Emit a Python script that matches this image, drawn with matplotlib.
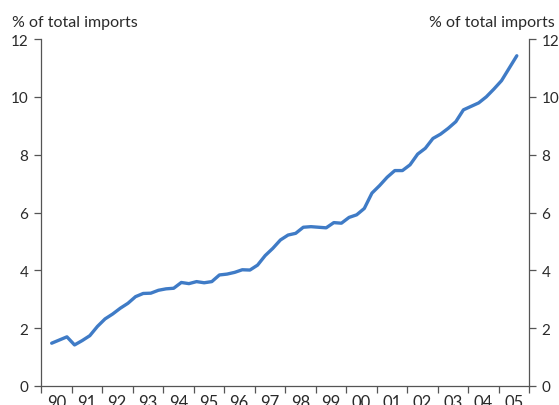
import numpy as np
import matplotlib
matplotlib.use('Agg')
import matplotlib.pyplot as plt
from matplotlib.ticker import FixedLocator, NullFormatter

plt.rcParams['font.family'] = ['Lato', 'DejaVu Sans']

# quarterly share of total imports, 1990 Q2 to 2005 Q3
years = [1990]*3 + [y for y in range(1991, 2005) for _ in range(4)] + [2005]*3
quarters = [2, 3, 4] + [1, 2, 3, 4]*14 + [1, 2, 3]
share = [1.48, 1.59, 1.70,
         1.42, 1.57, 1.74, 2.06,
         2.32, 2.49, 2.69, 2.86,
         3.09, 3.20, 3.21, 3.31,
         3.36, 3.38, 3.58, 3.54,
         3.61, 3.57, 3.61, 3.84,
         3.87, 3.93, 4.02, 4.01,
         4.18, 4.51, 4.76, 5.05,
         5.22, 5.28, 5.49, 5.51,
         5.49, 5.47, 5.65, 5.63,
         5.83, 5.92, 6.14, 6.67,
         6.93, 7.22, 7.45, 7.45,
         7.65, 8.02, 8.22, 8.56,
         8.71, 8.91, 9.14, 9.55,
         9.67, 9.79, 10.00, 10.27,
         10.56, 10.99, 11.42]
year_labels = ['90', '91', '92', '93', '94', '95', '96', '97',
               '98', '99', '00', '01', '02', '03', '04', '05']
y_ticks = [0, 2, 4, 6, 8, 10, 12]

x = np.array(years) + (np.array(quarters) - 0.6) / 4

text_col = '#2a2a2a'
spine_col = '#555555'

fig = plt.figure(figsize=(5.59, 4.06), dpi=100)
ax = fig.add_axes([41/559, 19/406, 488/559, 347/406])
ax.plot(x, share, color='#3f7bc6', lw=2.4, solid_capstyle='round', solid_joinstyle='round')

ax.set_xlim(1990, 2006)
ax.set_ylim(0, 12)

# year boundaries as tick marks, labels centred in each year
ax.xaxis.set_minor_locator(FixedLocator(np.arange(1990, 2007)))
ax.xaxis.set_minor_formatter(NullFormatter())
ax.set_xticks(np.arange(1990, 2006) + 0.5)
ax.set_xticklabels(year_labels)
ax.tick_params(axis='x', which='major', length=0, pad=6, labelsize=12, colors=text_col)
ax.tick_params(axis='x', which='minor', length=5, width=0.9, color=spine_col, direction='out')

ax.set_yticks(y_ticks)
ax.tick_params(axis='y', length=5, width=0.9, color=spine_col, direction='out',
               labelsize=11, labelcolor=text_col, pad=4, labelleft=True, labelright=True, right=True)

ax.spines['top'].set_visible(False)
for s in ['left', 'right', 'bottom']:
    ax.spines[s].set_color(spine_col)
    ax.spines[s].set_linewidth(0.9)

fig.text(12/559, 1 - 27/406, '% of total imports', fontsize=11.5, color=text_col, ha='left', va='baseline')
fig.text(555/559, 1 - 27/406, '% of total imports', fontsize=11.5, color=text_col, ha='right', va='baseline')

fig.savefig('out.png', dpi=100)
